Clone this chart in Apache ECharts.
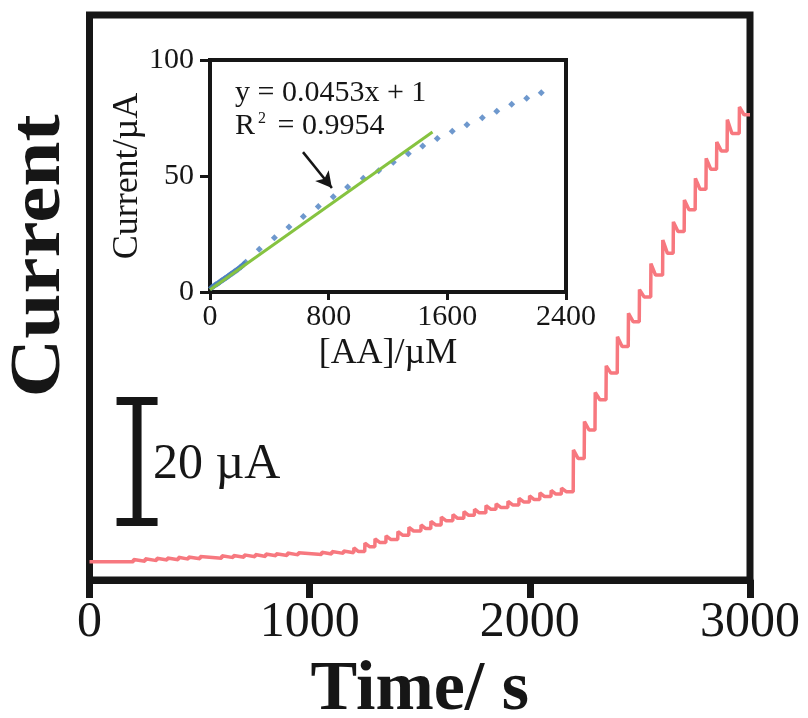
<!DOCTYPE html>
<html>
<head>
<meta charset="utf-8">
<script src="https://cdn.jsdelivr.net/npm/echarts@6/dist/echarts.min.js"></script>
<style>
  html, body { margin: 0; padding: 0; background: #fff; }
  #chart { width: 808px; height: 718px; }
</style>
</head>
<body>
<div id="chart"></div>
<script>
// Amperometric i–t response to successive AA additions (main trace)
const baseCurrent = 3.0;                       // µA before the first addition
const stepTimes = [
  199, 252, 305, 353, 403, 449, 502, 600, 653, 702, 752, 800, 847, 898, 948, 1054, 1100, 1153,
  1200, 1250, 1296, 1346, 1400, 1450, 1505, 1550, 1597, 1650, 1700, 1748, 1800, 1846, 1900, 1950, 1998, 2045, 2096, 2143,
  2197, 2247, 2296, 2346, 2397, 2447, 2497, 2549, 2603, 2651, 2701, 2751, 2800, 2848, 2896, 2951
];
const stepPeaks = [
  3.4, 3.5, 3.6, 3.65, 3.75, 3.8, 3.9, 4.0, 4.05, 4.15, 4.2, 4.3, 4.35, 4.45, 4.5, 4.6, 4.7, 4.8,
  5.3, 6.1, 6.8, 7.3, 8.0, 8.7, 9.1, 9.7, 10.4, 10.8, 11.3, 11.7, 12.3, 12.6, 13.0, 13.5, 13.9, 14.4, 14.8, 15.2,
  21.5, 26.2, 31.0, 35.4, 40.2, 44.1, 48.0, 52.3, 56.2, 59.2, 62.8, 66.4, 69.7, 72.4, 76.1, 78.2
];
const stepLevels = [
  3.1, 3.2, 3.3, 3.35, 3.45, 3.5, 3.6, 3.7, 3.75, 3.85, 3.9, 4.0, 4.05, 4.15, 4.2, 4.3, 4.4, 4.5,
  4.7, 5.5, 6.2, 6.7, 7.4, 8.1, 8.5, 9.1, 9.8, 10.2, 10.7, 11.1, 11.7, 12.0, 12.4, 12.9, 13.3, 13.8, 14.2, 14.6,
  20.1, 24.8, 29.8, 34.2, 38.6, 42.7, 46.8, 50.4, 54.0, 57.6, 61.2, 64.6, 67.9, 70.9, 73.8, 76.9
];
const timeTicks = [0, 1000, 2000, 3000];

// Calibration plot (inset)
const aaConc = [
  10, 20, 30, 40, 50, 60, 70, 80, 90, 100, 110, 120, 130, 140, 150, 160, 170, 180, 190, 200, 210, 220, 230, 240,
  332, 434, 532, 629, 730, 831, 928, 1033, 1137, 1236, 1337, 1434, 1532, 1633, 1732, 1836, 1933, 2034, 2135, 2233
];
const aaCurrent = [
  1.9, 2.3, 2.8, 3.2, 3.6, 4.0, 4.5, 5.0, 5.4, 5.8, 6.3, 6.7, 7.2, 7.6, 8.1, 8.5, 9.0, 9.4, 9.9, 10.4, 10.9, 11.5, 12.1, 12.8,
  18.4, 23.4, 28.0, 32.5, 36.8, 41.1, 45.3, 49.0, 52.3, 55.9, 59.6, 62.9, 66.2, 69.3, 72.1, 75.1, 77.9, 80.9, 83.5, 85.9
];
const fitSlope = 0.0453;
const fitIntercept = 1;
const fitRange = [0, 1500];
const fitR2 = '0.9954';
const concTicks = [0, 800, 1600, 2400];
const insetCurrentTicks = [0, 50, 100];

// Step trace: sharp jump to the spike, short decay onto the new plateau
const trace = [[0, baseCurrent]];
for (let i = 0; i < stepTimes.length; i++) {
  const prev = i === 0 ? baseCurrent : stepLevels[i - 1];
  const t = stepTimes[i];
  const settle = i < 18 ? 6 : 22;
  trace.push([t, prev], [t + 1, stepPeaks[i]], [t + settle, stepLevels[i]]);
}
trace.push([timeTicks[timeTicks.length - 1], stepLevels[stepLevels.length - 1]]);

const calib = aaConc.map((c, i) => [c, aaCurrent[i]]);
const fitLine = fitRange.map(x => [x, fitSlope * x + fitIntercept]);

const serif = "'Liberation Serif', 'Times New Roman', serif";
const ink = '#161616';
const plain = v => String(v);

const chart = echarts.init(document.getElementById('chart'), null, { renderer: 'canvas' });

chart.setOption({
  animation: false,
  backgroundColor: '#ffffff',
  grid: [
    { left: 89.5, right: 58, top: 15, bottom: 138, show: true, borderColor: ink, borderWidth: 7,
      backgroundColor: 'transparent', containLabel: false, outerBoundsMode: 'none' },
    { left: 210, right: 242, top: 60, bottom: 426, show: true, borderColor: ink, borderWidth: 4,
      backgroundColor: 'transparent', containLabel: false, outerBoundsMode: 'none' }
  ],
  xAxis: [
    {
      type: 'value', gridIndex: 0,
      min: timeTicks[0], max: timeTicks[timeTicks.length - 1], interval: timeTicks[1] - timeTicks[0],
      axisLine: { show: true, lineStyle: { color: ink, width: 7 } },
      axisTick: { show: true, length: 18, lineStyle: { color: ink, width: 7 } },
      axisLabel: { fontSize: 50, margin: 18, color: ink, fontFamily: serif, formatter: plain },
      splitLine: { show: false },
      name: 'Time/ s', nameLocation: 'middle', nameGap: 76,
      nameTextStyle: { fontSize: 70, fontWeight: 'bold', color: ink, fontFamily: serif }
    },
    {
      type: 'value', gridIndex: 1,
      min: concTicks[0], max: concTicks[concTicks.length - 1], interval: concTicks[1] - concTicks[0],
      axisLine: { show: true, lineStyle: { color: ink, width: 4 } },
      axisTick: { show: true, length: 8, lineStyle: { color: ink, width: 3 } },
      axisLabel: { fontSize: 30, margin: 10, color: ink, fontFamily: serif, formatter: plain },
      splitLine: { show: false },
      name: '[AA]/µM', nameLocation: 'middle', nameGap: 44,
      nameTextStyle: { fontSize: 36, color: ink, fontFamily: serif }
    }
  ],
  yAxis: [
    {
      type: 'value', gridIndex: 0, min: 0, max: 93.4,
      axisLine: { show: false }, axisTick: { show: false }, axisLabel: { show: false },
      splitLine: { show: false }
    },
    {
      type: 'value', gridIndex: 1,
      min: insetCurrentTicks[0], max: insetCurrentTicks[insetCurrentTicks.length - 1],
      interval: insetCurrentTicks[1] - insetCurrentTicks[0],
      axisLine: { show: true, lineStyle: { color: ink, width: 4 } },
      axisTick: { show: true, length: 10, lineStyle: { color: ink, width: 3 } },
      axisLabel: { fontSize: 30, margin: 16, color: ink, fontFamily: serif, formatter: plain },
      splitLine: { show: false },
      name: 'Current/µA', nameLocation: 'middle', nameGap: 45,
      nameTextStyle: { fontSize: 36, color: ink, fontFamily: serif }
    }
  ],
  series: [
    {
      name: 'i-t', type: 'line', xAxisIndex: 0, yAxisIndex: 0,
      data: trace, showSymbol: false, symbol: 'none',
      lineStyle: { color: '#f7787f', width: 3.5 }, z: 3
    },
    {
      // 20 µA scale bar drawn in data units of the main axes
      name: 'scale', type: 'custom', xAxisIndex: 0, yAxisIndex: 0,
      data: [[216, 9.6, 20]],
      renderItem: function (params, api) {
        const t = api.value(0), lo = api.value(1), hi = lo + api.value(2);
        const pTop = api.coord([t, hi]);
        const pBot = api.coord([t, lo]);
        const half = 20.5;
        return {
          type: 'group',
          children: [
            { type: 'line', shape: { x1: pTop[0], y1: pTop[1], x2: pBot[0], y2: pBot[1] }, style: { stroke: ink, lineWidth: 9 } },
            { type: 'line', shape: { x1: pTop[0] - half, y1: pTop[1], x2: pTop[0] + half, y2: pTop[1] }, style: { stroke: ink, lineWidth: 8 } },
            { type: 'line', shape: { x1: pBot[0] - half, y1: pBot[1], x2: pBot[0] + half, y2: pBot[1] }, style: { stroke: ink, lineWidth: 8 } }
          ]
        };
      },
      silent: true, z: 4
    },
    {
      name: 'fit', type: 'line', xAxisIndex: 1, yAxisIndex: 1,
      data: fitLine, showSymbol: false, symbol: 'none',
      lineStyle: { color: '#86c340', width: 3 }, z: 6
    },
    {
      name: 'AA', type: 'scatter', xAxisIndex: 1, yAxisIndex: 1,
      data: calib, symbol: 'diamond', symbolSize: 7,
      itemStyle: { color: '#4a7ec0' }, z: 5,
      markLine: {
        silent: true, symbol: ['none', 'arrow'], symbolSize: [13, 16],
        label: { show: false },
        lineStyle: { color: ink, width: 2.5, type: 'solid' },
        data: [[{ coord: [627, 60.3] }, { coord: [822, 44.8] }]]
      }
    }
  ],
  graphic: [
    {
      // main y-axis title, slightly stretched along its length
      type: 'text', x: 40, y: 256, rotation: Math.PI / 2, scaleX: 1.13,
      style: { text: 'Current', font: 'bold 72px ' + serif, fill: ink, align: 'center', verticalAlign: 'middle' }
    },
    {
      type: 'text', left: 235, top: 78,
      style: { text: 'y = ' + fitSlope + 'x + ' + fitIntercept, font: '30px ' + serif, fill: ink }
    },
    {
      type: 'text', left: 235, top: 111,
      style: {
        text: '{r|R}{s|2}{r| = ' + fitR2 + '}',
        rich: {
          r: { font: '30px ' + serif, fill: ink },
          s: { font: '16px ' + serif, fill: ink, verticalAlign: 'top', padding: [0, 4, 14, 3] }
        }
      }
    },
    {
      type: 'text', left: 153, top: 440,
      style: { text: '20 µA', font: '50px ' + serif, fill: ink }
    }
  ]
});
</script>
</body>
</html>
